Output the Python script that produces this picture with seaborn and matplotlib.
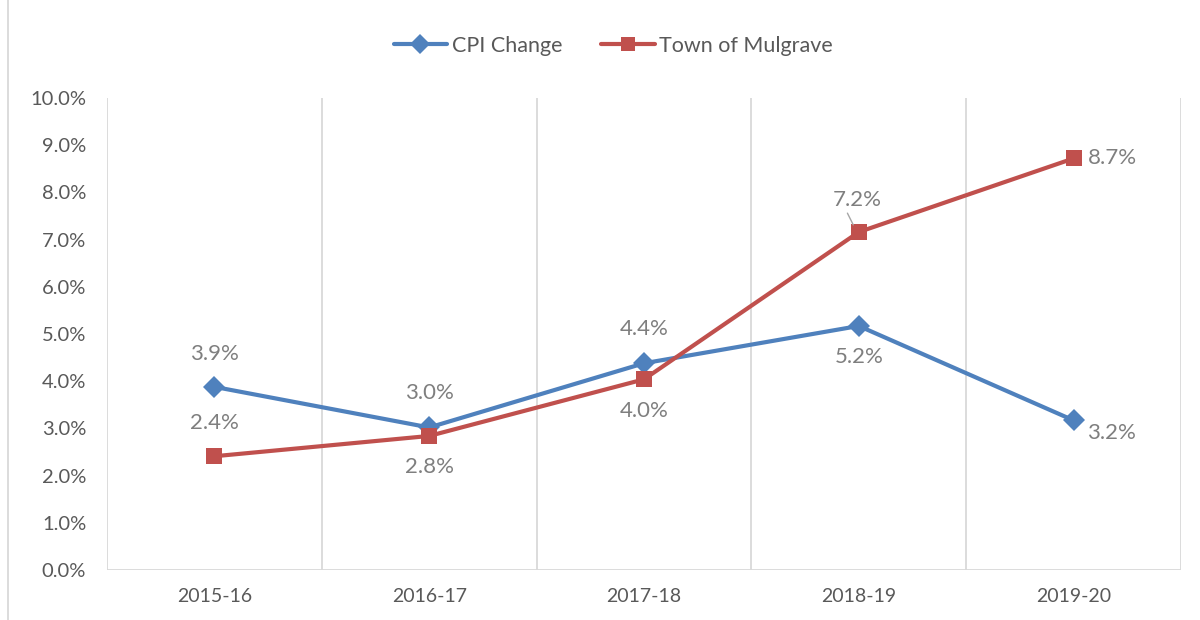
import matplotlib
matplotlib.use("Agg")
import matplotlib.pyplot as plt
import seaborn as sns
import pandas as pd
from matplotlib.lines import Line2D

years = ["2015-16", "2016-17", "2017-18", "2018-19", "2019-20"]
cpi_change = [3.88, 3.02, 4.38, 5.17, 3.17]
town_mulgrave = [2.41, 2.84, 4.04, 7.16, 8.72]
y_ticks = [0, 1, 2, 3, 4, 5, 6, 7, 8, 9, 10]

sns.set_theme(style="white")
plt.rcParams['font.family'] = ['Lato', 'DejaVu Sans']

BLUE = "#4F81BD"
RED = "#C0504D"
TXT = "#595959"
LBL = "#7F7F7F"
GRID = "#D9D9D9"

df = pd.DataFrame({
    "idx": list(range(len(years))) * 2,
    "value": cpi_change + town_mulgrave,
    "series": ["CPI Change"] * len(years) + ["Town of Mulgrave"] * len(years),
})

fig = plt.figure(figsize=(12, 6.2), dpi=100)
ax = fig.add_axes([107/1200, 1-570/620, (1181-107)/1200, (570-98)/620])

sns.lineplot(data=df, x="idx", y="value", hue="series", style="series",
             palette={"CPI Change": BLUE, "Town of Mulgrave": RED},
             markers={"CPI Change": "D", "Town of Mulgrave": "s"},
             dashes=False, linewidth=3, markersize=11, markeredgewidth=0,
             ax=ax, legend=False)

ax.set_xlim(-0.5, len(years) - 0.5)
ax.set_ylim(0, 10)
ax.set_yticks(y_ticks)
ax.set_yticklabels([f"{v:.1f}%" for v in y_ticks], fontsize=14.5, color=TXT)
ax.set_xticks(range(len(years)))
ax.set_xticklabels(years, fontsize=14, color=TXT)
ax.set_xlabel("")
ax.set_ylabel("")
ax.tick_params(axis="both", length=0)
ax.tick_params(axis="y", pad=15)
ax.tick_params(axis="x", pad=13)
for s in ax.spines.values():
    s.set_visible(False)
for xb in [i - 0.5 for i in range(len(years) + 1)]:
    ax.axvline(xb, color=GRID, lw=1.3, zorder=0)
ax.axhline(0, color=GRID, lw=1.3, zorder=0)

# data labels: (dx points, dy points, ha)
cpi_pos = [(0, 24, "center"), (0, 25, "center"), (0, 25, "center"), (0, -22, "center"), (10, -9, "left")]
town_pos = [(0, 24, "center"), (0, -22, "center"), (0, -23, "center"), (-1, 23, "center"), (10, 0, "left")]
for vals, pos in [(cpi_change, cpi_pos), (town_mulgrave, town_pos)]:
    for i, (v, (dx, dy, ha)) in enumerate(zip(vals, pos)):
        ax.annotate(f"{v:.1f}%", (i, v), xytext=(dx, dy), textcoords="offset points",
                    ha=ha, va="center", fontsize=16, color=LBL)
# leader line for 7.2%
ax.annotate("", (3 - 0.02, town_mulgrave[3] + 0.1), xytext=(-6, 12), textcoords="offset points",
            arrowprops=dict(arrowstyle="-", color="#A6A6A6", lw=1))

handles = [
    Line2D([], [], color=BLUE, marker="D", lw=3, markersize=10, markeredgewidth=0),
    Line2D([], [], color=RED, marker="s", lw=3, markersize=10, markeredgewidth=0),
]
leg = fig.legend(handles, ["CPI Change", "Town of Mulgrave"], loc="center",
                 bbox_to_anchor=(0.511, 1 - 46/620), ncol=2, frameon=False,
                 fontsize=15.5, handlelength=2.5, columnspacing=1.8, handletextpad=0.2)
for t in leg.get_texts():
    t.set_color(TXT)

fig.add_artist(Line2D([8/1200, 8/1200], [0, 1], transform=fig.transFigure, color=GRID, lw=1.3))

fig.savefig("out.png", dpi=100)
